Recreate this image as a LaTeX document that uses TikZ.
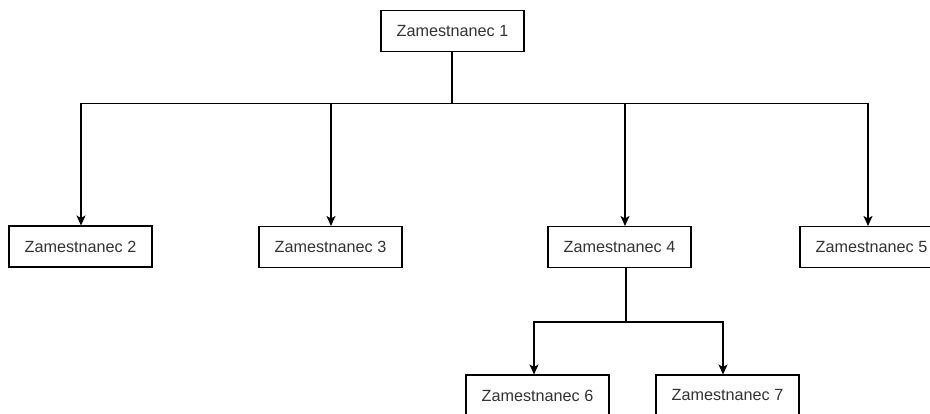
\documentclass[tikz,border=0pt]{standalone}
\usepackage{fontspec}
\setmainfont{Liberation Sans}
\usetikzlibrary{arrows.meta}
\definecolor{txtgray}{HTML}{333333}
\tikzset{
  emp/.style={draw=black, line width=1.05pt, fill=white, minimum width=143pt,
    minimum height=41pt, inner sep=0pt, text=txtgray,
    font=\fontsize{16.2}{19}\selectfont},
  link/.style={line width=1.05pt, draw=black},
  arr/.style={link, -{Stealth[length=10pt,width=9pt,inset=2.5pt]}}
}
\begin{document}
\begin{tikzpicture}[x=1pt,y=-1pt]
  \useasboundingbox (0,0) rectangle (930,414);
  \clip (0,0) rectangle (930,414);
  \fill[white] (0,0) rectangle (930,414);

  % employee boxes
  \node[emp] (n1) at (452.5,31) {Zamestnanec 1};
  \node[emp] (n2) at (80.5,246.5) {Zamestnanec 2};
  \node[emp] (n3) at (330.5,247) {Zamestnanec 3};
  \node[emp] (n4) at (619.5,247) {Zamestnanec 4};
  \node[emp] (n5) at (871.5,247) {Zamestnanec 5};
  \node[emp] (n6) at (537.5,395.5) {Zamestnanec 6};
  \node[emp] (n7) at (727.5,395.5) {Zamestnanec 7};

  % branching points
  \coordinate (bus1) at (452,103.5);
  \coordinate (bus2) at (626,322);

  % first level
  \draw[arr] (n1.south -| bus1) -- (bus1) -| ([xshift=0.5pt]n2.north);
  \draw[arr] (n1.south -| bus1) -- (bus1) -| ([xshift=0.5pt]n3.north);
  \draw[arr] (n1.south -| bus1) -- (bus1) -| ([xshift=5.5pt]n4.north);
  \draw[arr] (n1.south -| bus1) -- (bus1) -| ([xshift=-3.5pt]n5.north);

  % second level
  \draw[arr] (n4.south -| bus2) -- (bus2) -| ([xshift=-3.5pt]n6.north);
  \draw[arr] (n4.south -| bus2) -- (bus2) -| ([xshift=-4.5pt]n7.north);
\end{tikzpicture}
\end{document}
